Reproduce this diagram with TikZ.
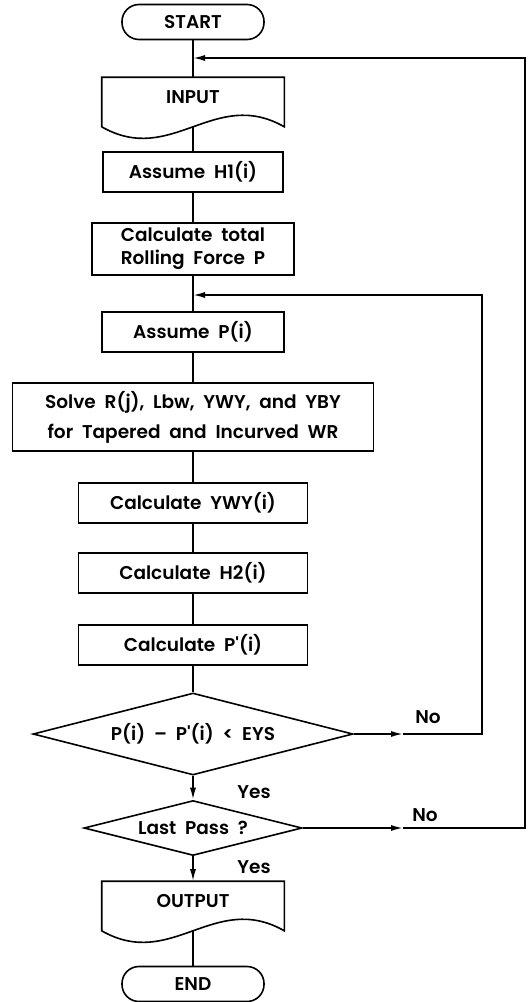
\documentclass[tikz,border=0pt]{standalone}
\usepackage{fontspec}
\setmainfont{Poppins}[UprightFont={* SemiBold}]
\usetikzlibrary{shapes.geometric,arrows.meta}

\begin{document}
\begin{tikzpicture}[x=1pt,y=-1pt,
  font=\fontsize{18.5}{22}\selectfont,
  line width=1.6pt,
  term/.style={draw,rounded corners=17pt,minimum width=142pt,minimum height=35pt,inner sep=0},
  doc/.style={minimum width=181pt,minimum height=48pt,text depth=10pt,inner sep=0},
  proc/.style={draw,minimum height=40pt,inner sep=0},
  dec/.style={diamond,draw,aspect=3.9,inner sep=0},
  arr/.style={-{Latex[length=12pt,width=6pt]}}]

  \useasboundingbox (0,0) rectangle (529,1002);

  % main column
  \node [term] (st) at (193,22) {START};
  \node [doc] (in) at (193,102) {INPUT};
  \node [proc,minimum width=180pt] (h1) at (193,172) {Assume\ \ H1(i)};
  \node [proc,minimum width=202pt,minimum height=52pt,align=center] (rf) at (193,249)
    {Calculate\ \ total\\[1pt]Rolling\ \ Force\ \ P};
  \node [proc,minimum width=182pt] (pi) at (193,332) {Assume\ \ P(i)};
  \node [proc,minimum width=361pt,minimum height=68pt,align=center] (sv) at (193,417)
    {Solve\ \ R(j),\ \ Lbw,\ \ YWY,\ \ and\ \ YBY\\[8pt]for\ \ Tapered\ \ and\ \ Incurved\ \ WR};
  \node [proc,minimum width=229pt] (yw) at (193,503) {Calculate\ \ YWY(i)};
  \node [proc,minimum width=229pt] (h2) at (193,573) {Calculate\ \ H2(i)};
  \node [proc,minimum width=229pt] (pp) at (193,645) {Calculate\ \ P\textquotesingle(i)};
  \node [dec,minimum width=320pt,minimum height=82pt] (d1) at (193,734)
    {P(i)\ \ –\ \ P\textquotesingle(i)\ \ <\ \ EYS};
  \node [dec,minimum width=218pt,minimum height=55pt] (d2) at (193,828) {Last\ \ Pass\ \ ?};
  \node [doc] (out) at (193,906) {OUTPUT};
  \node [term] (en) at (193,984) {END};

  % tape outlines
  \draw (in.south west) -- (in.north west) -- (in.north east) -- (in.south east)
    .. controls +(-70,-40) and +(70,40) .. (in.south west) -- cycle;
  \draw (out.south west) -- (out.north west) -- (out.north east) -- (out.south east)
    .. controls +(-70,-40) and +(70,40) .. (out.south west) -- cycle;

  \coordinate (j1) at (193,58);
  \coordinate (j2) at (193,295);
  \coordinate (m1) at (403,734);
  \coordinate (m2) at (403,828);
  \coordinate (r1) at (482,295);
  \coordinate (r2) at (525,58);

  \draw (st) -- (in);
  \draw (in) -- (h1);
  \draw (h1) -- (rf);
  \draw (rf) -- (pi);
  \draw (pi) -- (sv);
  \draw (sv) -- (yw);
  \draw (yw) -- (h2);
  \draw (h2) -- (pp);
  \draw (pp) -- (d1);
  \draw [arr] (d1) -- (d2);
  \draw [arr] (d2) -- (out);
  \draw (out) -- (en);

  % loops back
  \draw [arr] (d1) -- (m1);
  \draw [arr] (m1) -| (r1) -- (j2);
  \draw [arr] (d2) -- (m2);
  \draw [arr] (m2) -| (r2) -- (j1);

  \node (no1) at (428,717) {No};
  \node (no2) at (425,815) {No};
  \node (yes1) at (254,792) {Yes};
  \node (yes2) at (254,867) {Yes};

\end{tikzpicture}
\end{document}
